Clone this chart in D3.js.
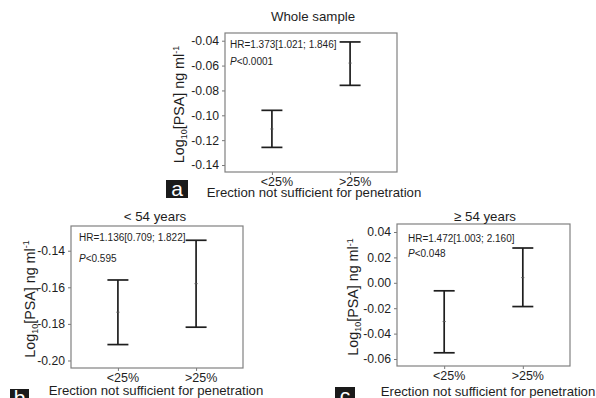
<!DOCTYPE html>
<html>
<head>
<meta charset="utf-8">
<script src="https://cdn.jsdelivr.net/npm/d3@7"></script>
<style>
  body { margin: 0; background: #fff; }
  svg { display: block; font-family: "Liberation Sans", Arial, sans-serif; }
</style>
</head>
<body>
<div id="chart"></div>
<script>
// values
const categories = ["<25%", ">25%"];
const panelTitles = ["Whole sample", "< 54 years", "\u2265 54 years"];
const panelLetters = ["a", "b", "c"];
const meanValues = [[-0.111, -0.058], [-0.1736, -0.158], [-0.0305, 0.0041]];
const lowerValues = [[-0.1258, -0.0759], [-0.1913, -0.1818], [-0.0551, -0.0187]];
const upperValues = [[-0.096, -0.041], [-0.156, -0.1343], [-0.0063, 0.0274]];
const yTicks = [
  [-0.04, -0.06, -0.08, -0.10, -0.12, -0.14],
  [-0.14, -0.16, -0.18, -0.20],
  [0.04, 0.02, 0.00, -0.02, -0.04, -0.06]
];
const hrLabels = ["HR=1.373[1.021; 1.846]", "HR=1.136[0.709; 1.822]", "HR=1.472[1.003; 2.160]"];
const pLabels = ["<0.0001", "<0.595", "<0.048"];
const xTitle = "Erection not sufficient for penetration";

// frame layout for each panel
const layout = [
  { x0: 225, x1: 397, y0: 33, y1: 172, dom: [-0.1456, -0.0338], ylabX: 184, titleX: 313, titleY: 21, xtitleX: 314, xtitleY: 197,
    ann: [5, 14.5, 32], letter: [166, 180, 22, 18] },
  { x0: 71, x1: 243, y0: 226, y1: 368, dom: [-0.2041, -0.1265], ylabX: 34.5, titleX: 155, titleY: 221, xtitleX: 156, xtitleY: 395,
    ann: [8, 14.7, 35.5], letter: [10, 389, 19, 12] },
  { x0: 397, x1: 570, y0: 224, y1: 366, dom: [-0.0655, 0.0463], ylabX: 358, titleX: 485, titleY: 220.5, xtitleX: 488, xtitleY: 396,
    ann: [11, 17.5, 33], letter: [335, 387, 20, 14] }
];

const svg = d3.select("#chart").append("svg")
  .attr("width", 596)
  .attr("height", 398);

const ink = "#1e1e1e";

layout.forEach(function(L, i) {
  const g = svg.append("g");
  const x = d3.scalePoint().domain(categories).range([L.x0, L.x1]).padding(0.6);
  const y = d3.scaleLinear().domain(L.dom).range([L.y1, L.y0]);

  // y axis
  const ya = g.append("g")
    .attr("transform", `translate(${L.x0},0)`)
    .call(d3.axisLeft(y).tickValues(yTicks[i]).tickFormat(d => d.toFixed(2)).tickSize(3).tickPadding(3));
  ya.attr("font-family", null).attr("font-size", null);
  ya.select(".domain").remove();
  ya.selectAll("line").attr("stroke", "#777");
  ya.selectAll("text").attr("font-size", 12.2).attr("fill", ink);

  // x axis
  const xa = g.append("g")
    .attr("transform", `translate(0,${L.y1})`)
    .call(d3.axisBottom(x).tickSize(3).tickPadding(2.5));
  xa.attr("font-family", null).attr("font-size", null);
  xa.select(".domain").remove();
  xa.selectAll("line").attr("stroke", "#777");
  xa.selectAll("text").attr("font-size", 12.5).attr("fill", ink).attr("dx", 4.5);

  // frame
  g.append("rect")
    .attr("x", L.x0).attr("y", L.y0)
    .attr("width", L.x1 - L.x0).attr("height", L.y1 - L.y0)
    .attr("fill", "none").attr("stroke", "#808080").attr("stroke-width", 1.2);

  // error bars
  const bars = g.selectAll(".bar").data(categories).enter().append("g").attr("class", "bar");
  bars.append("line")
    .attr("x1", d => x(d)).attr("x2", d => x(d))
    .attr("y1", (d, j) => y(upperValues[i][j])).attr("y2", (d, j) => y(lowerValues[i][j]))
    .attr("stroke", ink).attr("stroke-width", 1.7);
  bars.append("line")
    .attr("x1", d => x(d) - 10.5).attr("x2", d => x(d) + 10.5)
    .attr("y1", (d, j) => y(upperValues[i][j])).attr("y2", (d, j) => y(upperValues[i][j]))
    .attr("stroke", ink).attr("stroke-width", 1.7);
  bars.append("line")
    .attr("x1", d => x(d) - 10.5).attr("x2", d => x(d) + 10.5)
    .attr("y1", (d, j) => y(lowerValues[i][j])).attr("y2", (d, j) => y(lowerValues[i][j]))
    .attr("stroke", ink).attr("stroke-width", 1.7);
  bars.append("line")
    .attr("x1", d => x(d) - 1.5).attr("x2", d => x(d) + 1.5)
    .attr("y1", (d, j) => y(meanValues[i][j])).attr("y2", (d, j) => y(meanValues[i][j]))
    .attr("stroke", "#555").attr("stroke-width", 1);

  // annotations
  g.append("text")
    .attr("x", L.x0 + L.ann[0]).attr("y", L.y0 + L.ann[1])
    .attr("font-size", 10).attr("fill", ink)
    .text(hrLabels[i]);
  const pt = g.append("text")
    .attr("x", L.x0 + L.ann[0]).attr("y", L.y0 + L.ann[2])
    .attr("font-size", 10).attr("fill", ink);
  pt.append("tspan").attr("font-style", "italic").text("P");
  pt.append("tspan").text(pLabels[i]);

  // panel title
  g.append("text")
    .attr("x", L.titleX).attr("y", L.titleY)
    .attr("text-anchor", "middle").attr("font-size", 13.3).attr("fill", ink)
    .text(panelTitles[i]);

  // x title
  g.append("text")
    .attr("x", L.xtitleX).attr("y", L.xtitleY)
    .attr("text-anchor", "middle").attr("font-size", 13.2).attr("fill", ink)
    .text(xTitle);

  // y title
  const yl = g.append("text")
    .attr("transform", `translate(${L.ylabX},${(L.y0 + L.y1) / 2 + 2}) rotate(-90)`)
    .attr("text-anchor", "middle").attr("font-size", 14.3).attr("fill", ink);
  yl.append("tspan").text("Log");
  yl.append("tspan").attr("font-size", 9).attr("dy", 3).text("10");
  yl.append("tspan").attr("dy", -3).text("[PSA] ng ml");
  yl.append("tspan").attr("font-size", 9).attr("dy", -5.5).text("-1");

  // panel letter
  const lb = L.letter;
  g.append("rect")
    .attr("x", lb[0]).attr("y", lb[1]).attr("width", lb[2]).attr("height", lb[3])
    .attr("fill", "#1a1a1a");
  g.append("text")
    .attr("x", lb[0] + lb[2] / 2).attr("y", lb[1] + 16)
    .attr("text-anchor", "middle").attr("font-size", 21).attr("fill", "#fff")
    .text(panelLetters[i]);
});
</script>
</body>
</html>
